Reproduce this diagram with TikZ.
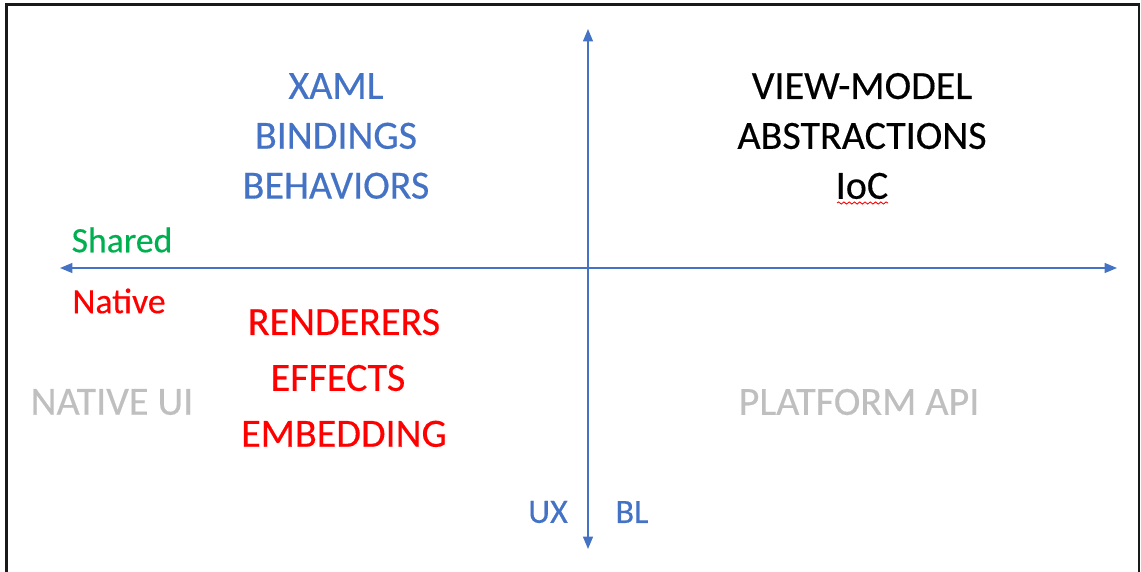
\documentclass[tikz,border=0pt]{standalone}
\usepackage{fontspec}
\setmainfont{Carlito}
\newfontfamily\thickfont[FakeBold=0.35]{Carlito}
\usetikzlibrary{arrows.meta, decorations.pathmorphing}

\definecolor{axisblue}{HTML}{4472C4}
\definecolor{sharedgreen}{HTML}{00B050}
\definecolor{nativered}{HTML}{FF0000}
\definecolor{hintgray}{HTML}{BFBFBF}

\begin{document}
\begin{tikzpicture}[
    x=0.02cm, y=-0.02cm,
    >=Stealth,
    % --- Styles ---
    axis_arrow/.style={-{Triangle[length=0.25cm,width=0.2cm]}, line width=0.9pt, color=axisblue},
    block_text/.style={align=center, font=\thickfont\fontsize{22.8}{28.4}\selectfont, text=#1, inner sep=0pt},
    red_text/.style={align=center, font=\thickfont\fontsize{22.8}{31.8}\selectfont, text=nativered, inner sep=0pt},
    side_label/.style={font=\thickfont\fontsize{20.3}{23}\selectfont, text=#1, inner sep=0pt},
    hint_text/.style={font=\thickfont\fontsize{22.8}{28.4}\selectfont, text=hintgray, inner sep=0pt},
    axis_label/.style={font=\thickfont\fontsize{19.4}{23}\selectfont, text=axisblue, inner sep=0pt},
]
    \useasboundingbox (0,0) rectangle (1141,571);

    % ==========================
    % 1. FRAME
    % ==========================
    \draw[line width=1.5pt, color=black!90] (6.5,575) -- (6.5,4.5) -- (1139,4.5) -- (1139,575);

    % ==========================
    % 2. AXES
    % ==========================
    \coordinate (ax_center) at (588,268);
    \coordinate (ax_left) at (60,268);
    \coordinate (ax_right) at (1117,268);
    \coordinate (ax_top) at (588,29);
    \coordinate (ax_bottom) at (588,549);

    \draw[axis_arrow] (ax_center) -- (ax_left);
    \draw[axis_arrow] (ax_center) -- (ax_right);
    \draw[axis_arrow] (ax_center) -- (ax_top);
    \draw[axis_arrow] (ax_center) -- (ax_bottom);

    % ==========================
    % 3. QUADRANT TEXTS
    % ==========================
    \node[block_text=axisblue] (shared_ux) at (336,136) {XAML\\BINDINGS\\BEHAVIORS};
    \node[block_text=black] (shared_bl) at (862,136) {VIEW-MODEL\\ABSTRACTIONS\\IoC};
    \node[red_text] (native_ux) at (344,378) {RENDERERS\\EFFECTS\rule{0.24cm}{0pt}\\EMBEDDING};

    % spell-check underline
    \coordinate (ioc_l) at (837,203);
    \coordinate (ioc_r) at (888,203);
    \draw[nativered, line width=0.5pt, decorate, decoration={snake, amplitude=0.6pt, segment length=3pt}] (ioc_l) -- (ioc_r);

    \node[hint_text] (native_ui) at (112,402) {NATIVE UI};
    \node[hint_text] (platform_api) at (859,402) {PLATFORM API};

    % ==========================
    % 4. AXIS LABELS
    % ==========================
    \node[side_label=sharedgreen] (shared) at (122,240) {Shared};
    \node[side_label=nativered] (native) at (119,301) {Native};
    \node[axis_label] (ux) at (548,512) {UX};
    \node[axis_label] (bl) at (632,512) {BL};

\end{tikzpicture}
\end{document}
